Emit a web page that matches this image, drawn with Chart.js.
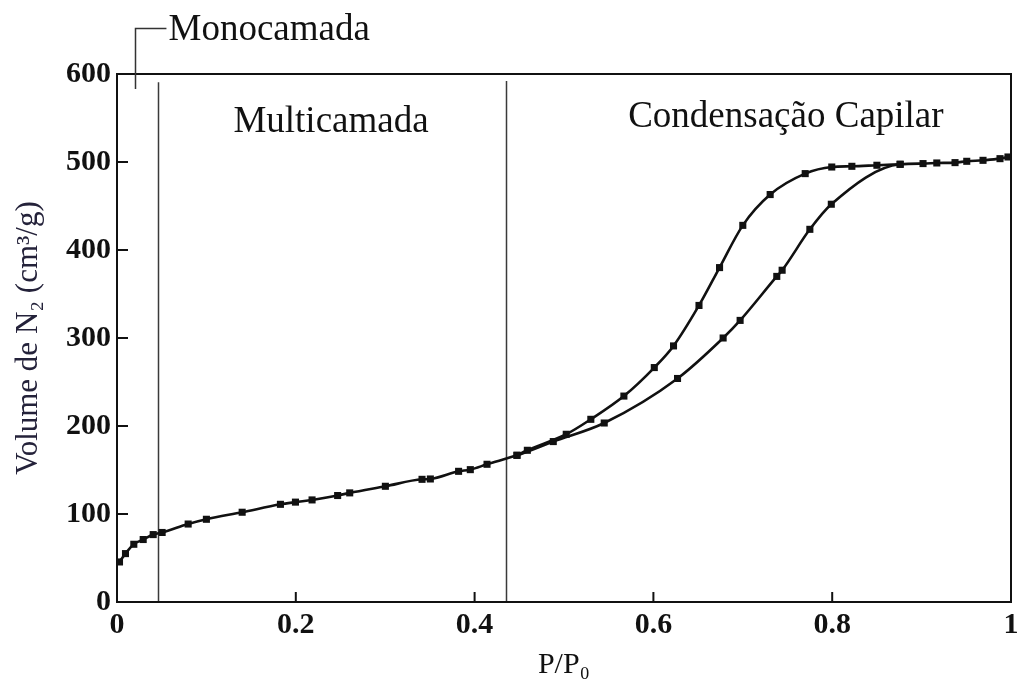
<!DOCTYPE html>
<html>
<head>
<meta charset="utf-8">
<script src="https://cdn.jsdelivr.net/npm/chart.js@4/dist/chart.umd.min.js"></script>
<style>
  html, body { margin: 0; padding: 0; background: #ffffff; }
  #wrap { width: 1017px; height: 686px; }
</style>
</head>
<body>
<div id="wrap"><canvas id="isotherm" width="1017" height="686"></canvas></div>
<script>
// N2 isotherm: adsorption branch (full range) and desorption branch (hysteresis loop)
const adsorptionP = [0.0028, 0.0095, 0.0188, 0.0293, 0.0405, 0.0505, 0.0796, 0.100, 0.140, 0.1828,
                     0.1996, 0.2182, 0.2468, 0.2603, 0.3002, 0.3412, 0.3505, 0.3821, 0.3952, 0.4139,
                     0.4474, 0.488, 0.545, 0.627, 0.678, 0.697, 0.738, 0.744, 0.775, 0.799,
                     0.876, 0.9016, 0.917, 0.9374, 0.9505, 0.9687, 0.9877, 0.9966];
const adsorptionV = [45.5, 55, 65.6, 71, 76.6, 79, 88.6, 94, 102, 111,
                     113.5, 116, 121, 124, 131.5, 139.4, 139.8, 148.5, 150.4, 156.5,
                     166.7, 182.3, 203.4, 254, 300, 320, 370, 377, 423.5, 452,
                     497.4, 498.2, 498.9, 499.3, 500.8, 501.9, 503.8, 505.7];

const desorptionP = [0.4474, 0.459, 0.5025, 0.530, 0.567, 0.601, 0.6225, 0.651, 0.674, 0.700,
                     0.7306, 0.7698, 0.7995, 0.822, 0.850, 0.876];
const desorptionV = [166.7, 172.4, 190.6, 207.6, 234, 266.4, 291, 337, 380, 428,
                     463, 486.8, 494.3, 495.1, 496.3, 497.4];

const xTickValues = [0, 0.2, 0.4, 0.6, 0.8, 1];
const yTickValues = [0, 100, 200, 300, 400, 500, 600];

// region separators (P/P0) and how high they reach (cm3/g)
const separatorP = [0.0454, 0.435];
const separatorTop = [590.6, 592];

// region labels: text, left edge (P/P0), baseline (cm3/g)
const regionText = ['Multicamada', 'Condensação Capilar'];
const regionP = [0.1302, 0.5718];
const regionV = [533.7, 539.4];

// monolayer leader: bracket foot, corner and label
const monoText = 'Monocamada';
const monoBracketP = 0.0196;
const monoBracketV = [583, 652];
const monoLeaderEndP = 0.0553;
const monoLabelP = 0.0576;
const monoLabelV = 638.3;

const SERIF = '"Liberation Serif", "Times New Roman", Times, serif';

const toPoints = (xs, ys) => xs.map((v, i) => ({ x: v, y: ys[i] }));

const isothermDecor = {
  id: 'isothermDecor',
  beforeDatasetsDraw(chart) {
    const { ctx, scales: { x, y } } = chart;
    ctx.save();
    ctx.strokeStyle = '#3a3a3a';
    ctx.lineWidth = 1.5;
    separatorP.forEach((p, i) => {
      const px = Math.round(x.getPixelForValue(p)) + 0.5;
      ctx.beginPath();
      ctx.moveTo(px, y.getPixelForValue(0));
      ctx.lineTo(px, y.getPixelForValue(separatorTop[i]));
      ctx.stroke();
    });
    ctx.restore();
  },
  afterDraw(chart) {
    const { ctx, chartArea: a, scales: { x, y } } = chart;
    ctx.save();
    // frame
    ctx.strokeStyle = '#111';
    ctx.lineWidth = 2;
    ctx.strokeRect(a.left, a.top, a.right - a.left, a.bottom - a.top);
    // inward tick marks
    xTickValues.slice(1, -1).forEach(v => {
      const px = x.getPixelForValue(v);
      ctx.beginPath();
      ctx.moveTo(px, a.bottom);
      ctx.lineTo(px, a.bottom - 10);
      ctx.stroke();
    });
    yTickValues.slice(1, -1).forEach(v => {
      const py = y.getPixelForValue(v);
      ctx.beginPath();
      ctx.moveTo(a.left, py);
      ctx.lineTo(a.left + 11, py);
      ctx.stroke();
    });
    // monolayer bracket
    ctx.strokeStyle = '#333';
    ctx.lineWidth = 1.5;
    const bx = Math.round(x.getPixelForValue(monoBracketP)) + 0.5;
    const by0 = y.getPixelForValue(monoBracketV[0]);
    const by1 = Math.round(y.getPixelForValue(monoBracketV[1])) + 0.5;
    ctx.beginPath();
    ctx.moveTo(bx, by0);
    ctx.lineTo(bx, by1);
    ctx.lineTo(x.getPixelForValue(monoLeaderEndP), by1);
    ctx.stroke();
    // labels
    ctx.fillStyle = '#111';
    ctx.font = '37px ' + SERIF;
    ctx.textAlign = 'left';
    ctx.textBaseline = 'alphabetic';
    ctx.fillText(monoText, x.getPixelForValue(monoLabelP), y.getPixelForValue(monoLabelV));
    regionText.forEach((t, i) => {
      ctx.fillText(t, x.getPixelForValue(regionP[i]), y.getPixelForValue(regionV[i]));
    });
    ctx.restore();
  }
};

const seriesStyle = {
  borderColor: '#111',
  backgroundColor: '#111',
  borderWidth: 2.6,
  pointStyle: 'rect',
  pointRadius: 5,
  pointBorderWidth: 0,
  pointHoverRadius: 5,
  cubicInterpolationMode: 'monotone',
  fill: false
};

new Chart(document.getElementById('isotherm'), {
  type: 'line',
  data: {
    datasets: [
      Object.assign({ label: 'Adsorção', data: toPoints(adsorptionP, adsorptionV) }, seriesStyle),
      Object.assign({ label: 'Dessorção', data: toPoints(desorptionP, desorptionV) }, seriesStyle)
    ]
  },
  options: {
    responsive: false,
    animation: false,
    events: [],
    layout: { padding: { top: 74, right: 6, left: 0, bottom: 0 } },
    plugins: { legend: { display: false }, tooltip: { enabled: false } },
    scales: {
      x: {
        type: 'linear',
        min: 0,
        max: 1,
        afterBuildTicks: s => { s.ticks = xTickValues.map(v => ({ value: v })); },
        afterFit: s => { s.height = 84; s.paddingLeft = 0; s.paddingRight = 0; },
        grid: { display: false, drawTicks: false },
        border: { display: false },
        ticks: {
          padding: 5,
          color: '#111',
          font: { family: SERIF, size: 30, weight: 'bold' },
          maxRotation: 0,
          callback: v => String(v)
        },
        title: {
          display: true,
          text: 'P/P₀',
          color: '#111',
          font: { family: SERIF, size: 30 },
          padding: { top: 0, bottom: 3 }
        }
      },
      y: {
        type: 'linear',
        min: 0,
        max: 600,
        afterBuildTicks: s => { s.ticks = yTickValues.map(v => ({ value: v })); },
        afterFit: s => { s.width = 117; s.paddingTop = 0; s.paddingBottom = 0; },
        grid: { display: false, drawTicks: false },
        border: { display: false },
        ticks: {
          padding: 6,
          color: '#111',
          font: { family: SERIF, size: 30, weight: 'bold' },
          callback: v => String(v)
        },
        title: {
          display: true,
          text: 'Volume de N₂ (cm³/g)',
          color: '#24223a',
          font: { family: SERIF, size: 31 },
          padding: { top: 10, bottom: 0 }
        }
      }
    }
  },
  plugins: [isothermDecor]
});
</script>
</body>
</html>
